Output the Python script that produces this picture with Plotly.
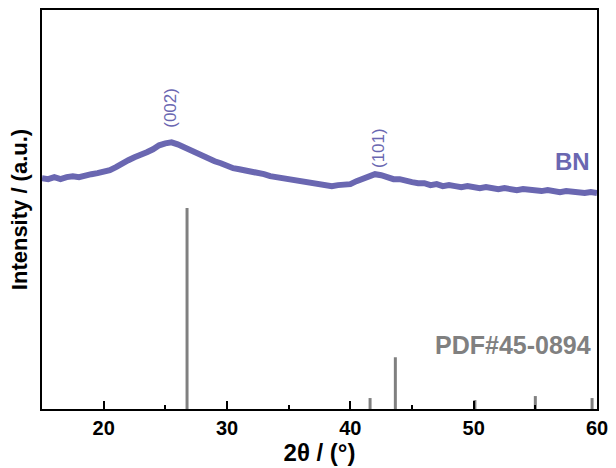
import plotly.graph_objects as go

# BN diffraction pattern (2theta, intensity in arbitrary units)
two_theta = [15.0 + 0.5 * i for i in range(91)]
bn_intensity = [
    232, 231, 233, 231, 233, 234, 233, 235, 236, 237,
    238, 240, 243, 247, 250, 253, 255, 258, 261, 265,
    267, 268, 266, 263, 260, 257, 254, 252, 249, 247,
    244, 242, 241, 240, 238, 237, 236, 234, 233, 231,
    231, 229, 228, 227, 226, 226, 225, 224, 225, 226,
    226, 229, 231, 233, 236, 235, 233, 231, 231, 229,
    228, 227, 227, 225, 226, 224, 225, 224, 223, 224,
    223, 222, 223, 222, 221, 222, 221, 220, 221, 220,
    220, 219, 220, 219, 218, 219, 218, 218, 217, 218,
    217,
]

# reference card PDF#45-0894
pdf_theta = [26.76, 41.6, 43.65, 50.1, 55.0, 59.6]
pdf_height = [202, 11, 52, 9, 13, 11]

# axis ticks
major_ticks = [20, 30, 40, 50, 60]
minor_ticks = [25, 35, 45, 55]

# peak labels
peak_labels = ["(002)", "(101)"]
peak_theta = [25.4, 42.3]
peak_y = [303, 262]

purple = "#6a67b1"
grey = "#808080"
font = "Liberation Sans, Arial, sans-serif"

fig = go.Figure()

fig.add_trace(go.Scatter(
    x=two_theta, y=bn_intensity, mode="lines",
    line=dict(color=purple, width=6), showlegend=False,
))

# stick pattern
stick_x, stick_y = [], []
for t, h in zip(pdf_theta, pdf_height):
    stick_x += [t, t, None]
    stick_y += [0, h, None]
fig.add_trace(go.Scatter(
    x=stick_x, y=stick_y, mode="lines",
    line=dict(color=grey, width=3), showlegend=False,
))

# empty trace on the overlay axis that carries the minor ticks
fig.add_trace(go.Scatter(x=[], y=[], xaxis="x2", showlegend=False, hoverinfo="skip"))

for txt, t, yy in zip(peak_labels, peak_theta, peak_y):
    fig.add_annotation(x=t, y=yy, text=txt, showarrow=False, textangle=-90,
                       font=dict(family=font, size=17, color=purple))

fig.add_annotation(x=1, xref="paper", y=249, text="<b>BN</b>", showarrow=False,
                   xanchor="right", xshift=-5,
                   font=dict(family=font, size=24, color=purple))
fig.add_annotation(x=1, xref="paper", y=64, text="<b>PDF#45-0894</b>", showarrow=False,
                   xanchor="right", xshift=-4,
                   font=dict(family=font, size=25, color=grey))

fig.update_layout(
    width=616, height=468,
    margin=dict(l=42, r=13, t=8, b=59),
    paper_bgcolor="white", plot_bgcolor="white",
    font=dict(family=font, color="black"),
    xaxis=dict(
        range=[15, 60], tickmode="array", tickvals=major_ticks,
        ticktext=[f"<b>{v}</b>" for v in major_ticks],
        ticks="inside", ticklen=8, tickwidth=2, tickcolor="black",
        showline=True, linewidth=2, linecolor="black", mirror=True,
        showgrid=False, zeroline=False,
        tickfont=dict(size=20),
        title=dict(text="<b>2θ / (°)</b>", font=dict(size=24), standoff=2),
    ),
    xaxis2=dict(
        range=[15, 60], overlaying="x", side="bottom", anchor="y",
        tickmode="array", tickvals=minor_ticks, showticklabels=False,
        ticks="inside", ticklen=4, tickwidth=2, tickcolor="black",
        showline=False, showgrid=False, zeroline=False,
    ),
    yaxis=dict(
        range=[0, 401], showticklabels=False, ticks="",
        showline=True, linewidth=2, linecolor="black", mirror=True,
        showgrid=False, zeroline=False,
        title=dict(text="<b>Intensity / (a.u.)</b>", font=dict(size=22), standoff=6),
    ),
)

fig.write_html(
    "out.html",
    config={"displayModeBar": False},
    post_script="document.body.style.margin='0';document.body.style.overflow='hidden';",
)
